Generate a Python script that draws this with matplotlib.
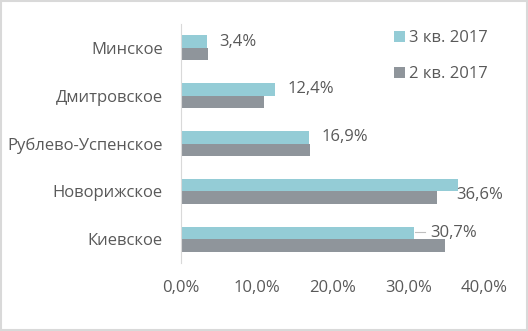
import matplotlib
matplotlib.use("Agg")
import matplotlib.pyplot as plt
import numpy as np
from matplotlib.patches import Rectangle

categories = ["Минское", "Дмитровское", "Рублево-Успенское", "Новорижское", "Киевское"]
q3_2017 = [3.4, 12.4, 16.9, 36.6, 30.7]
q2_2017 = [3.6, 10.9, 17.0, 33.8, 34.9]
series_names = ["3 кв. 2017", "2 кв. 2017"]
xticks = [0, 10, 20, 30, 40]
xtick_labels = ["0,0%", "10,0%", "20,0%", "30,0%", "40,0%"]

teal = "#94CCD6"
gray = "#8F959B"
txt = "#595959"
fs = 12

plt.rcParams['font.family'] = ['Open Sans', 'DejaVu Sans']

fig = plt.figure(figsize=(5.28, 3.31), dpi=100)
ax = fig.add_axes([181/528, 1-263/331, (484-181)/528, (263-24)/331])

y = np.arange(len(categories))
h = 0.26
ax.barh(y - h/2, q3_2017, height=h, color=teal, label=series_names[0])
ax.barh(y + h/2, q2_2017, height=h, color=gray, label=series_names[1])

ax.set_ylim(len(categories) - 0.5, -0.5)
ax.set_xlim(0, 40)
ax.set_yticks(y)
ax.set_yticklabels(categories, color=txt, fontsize=fs)
ax.set_xticks(xticks)
ax.set_xticklabels(xtick_labels, color=txt, fontsize=fs)
ax.tick_params(axis='both', length=0)
ax.tick_params(axis='y', pad=13)
ax.tick_params(axis='x', pad=12)
for s in ['top', 'right', 'bottom']:
    ax.spines[s].set_visible(False)
ax.spines['left'].set_color('#d9d9d9')

def fmt(v):
    return f"{v:.1f}%".replace('.', ',')

for i, v in enumerate(q3_2017):
    if i == 3:
        ax.annotate(fmt(v), xy=(v, i), xytext=(-1.5, -2.5), textcoords='offset points',
                    ha='left', va='center', fontsize=fs, color=txt)
    elif i == 4:
        ax.annotate(fmt(v), xy=(v, i - h/2), xytext=(12, 0), textcoords='offset points',
                    ha='left', va='center', fontsize=fs, color=txt)
        ax.plot([v + 0.2, v + 1.5], [i - h/2 - 0.02, i - h/2 - 0.02], color='#bfbfbf', lw=0.8)
    else:
        ax.annotate(fmt(v), xy=(v, i - h/2), xytext=(9, 0), textcoords='offset points',
                    ha='left', va='center', fontsize=fs, color=txt)

leg = ax.legend(loc='upper left', bbox_to_anchor=(394/528, 1-30/331), bbox_transform=fig.transFigure,
                frameon=False, fontsize=fs, handlelength=0.65, handleheight=0.65,
                handletextpad=0.25, labelspacing=1.2, borderaxespad=0, borderpad=0)
for t in leg.get_texts():
    t.set_color(txt)

fig.patches.append(Rectangle((0.002, 0.003), 0.996, 0.994, transform=fig.transFigure,
                             fill=False, edgecolor='#d9d9d9', lw=1.5))

fig.savefig("out.png", dpi=100)
